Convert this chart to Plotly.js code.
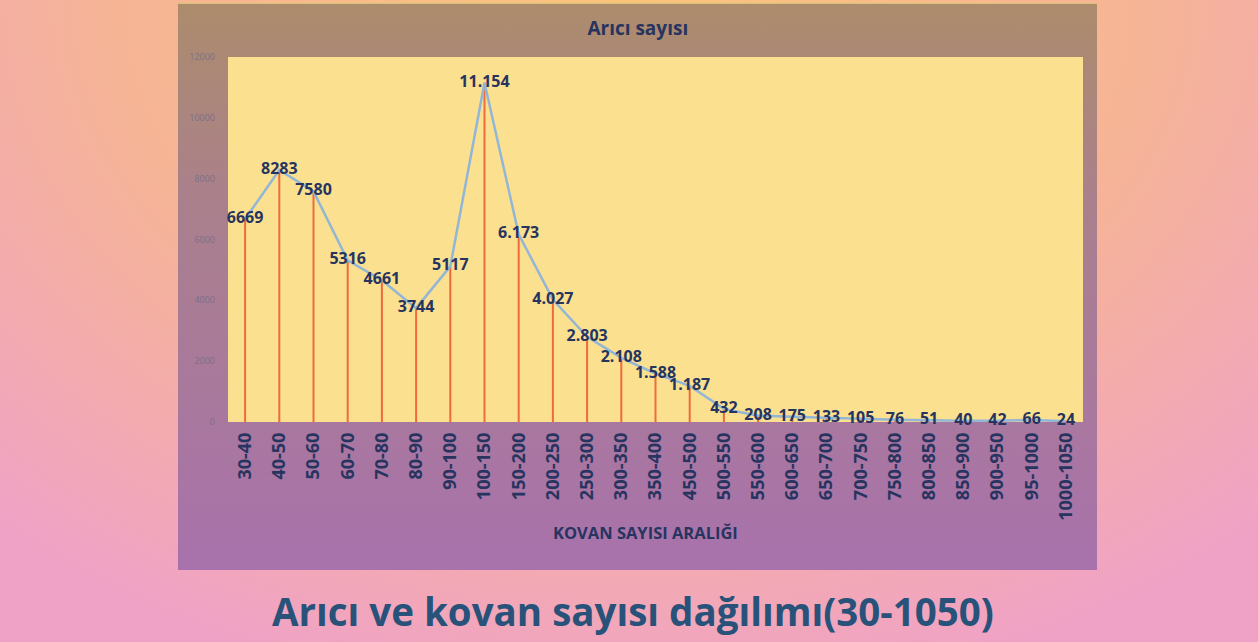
<!DOCTYPE html>
<html>
<head>
<meta charset="utf-8">
<script src="https://cdn.plot.ly/plotly-3.0.1.min.js"></script>
<style>
  html, body { margin:0; padding:0; width:1258px; height:642px; overflow:hidden; }
  body { background: radial-gradient(ellipse 75% 110% at 50% 0%, #f9c47a 0%, #f6b496 55%, #f0a2c6 100%); position:relative; }
  #box { position:absolute; left:178px; top:3px; width:919px; height:567px;
         background: linear-gradient(180deg, rgba(172,140,108,1) 0%, rgba(170,128,140,1) 35%, rgba(168,114,172,1) 100%);
         border-top:1px solid #d8c27a; box-sizing:border-box; }
  #chart { position:absolute; left:0; top:0; width:1258px; height:642px; }
</style>
</head>
<body>
<div id="box"></div>
<div id="chart"></div>
<script>
const categories = ["30-40","40-50","50-60","60-70","70-80","80-90","90-100","100-150","150-200","200-250","250-300","300-350","350-400","450-500","500-550","550-600","600-650","650-700","700-750","750-800","800-850","850-900","900-950","95-1000","1000-1050"];
const values = [6669,8283,7580,5316,4661,3744,5117,11154,6173,4027,2803,2108,1588,1187,432,208,175,133,105,76,51,40,42,66,24];
const valueLabels = ["6669","8283","7580","5316","4661","3744","5117","11.154","6.173","4.027","2.803","2.108","1.588","1.187","432","208","175","133","105","76","51","40","42","66","24"];
const yTicks = [0,2000,4000,6000,8000,10000,12000];

const navy = "#27345f";
const traces = [
  { type:"scatter", mode:"markers", x:categories, y:values, marker:{size:1, opacity:0},
    error_y:{type:"data", symmetric:false, array:values.map(()=>0), arrayminus:values, width:0, thickness:2, color:"#f06a3a"},
    hoverinfo:"skip", showlegend:false },
  { type:"scatter", mode:"lines+text", x:categories, y:values, text:valueLabels, textposition:"middle center",
    line:{color:"#93b6d6", width:2.5}, textfont:{family:"Open Sans", size:16, color:navy, weight:"bold"},
    cliponaxis:false, showlegend:false }
];
const layout = {
  width:1258, height:642,
  margin:{l:228, r:175, t:57, b:220},
  paper_bgcolor:"rgba(0,0,0,0)", plot_bgcolor:"#fae08f",
  title:{text:"<b>Arıcı sayısı</b>", font:{family:"Open Sans", size:19, color:navy}, x:0.507, xanchor:"center", y:0.956, yanchor:"middle"},
  xaxis:{type:"category", range:[-0.5,24.5], tickangle:-90, showgrid:false, zeroline:false, showline:false, ticks:"",
    tickfont:{family:"Open Sans", size:18, color:navy, weight:"bold"}, ticklabelstandoff:6},
  yaxis:{range:[0,12000], tickvals:yTicks, ticktext:yTicks.map(String), showgrid:false, zeroline:false, showline:false,
    tickfont:{family:"Open Sans", size:9, color:"#7c6f88"}, ticklabelstandoff:12},
  annotations:[
    {text:"<b>KOVAN SAYISI ARALIĞI</b>", xref:"paper", yref:"paper", x:0.488, y:-0.304, xanchor:"center", yanchor:"middle",
     showarrow:false, font:{family:"Open Sans", size:16.5, color:navy}},
    {text:"<b>Arıcı ve kovan sayısı dağılımı(30-1050)</b>", xref:"paper", yref:"paper", x:0.474, y:-0.518, xanchor:"center", yanchor:"middle",
     showarrow:false, font:{family:"Open Sans", size:38.5, color:"#28527a"}}
  ]
};
Plotly.newPlot("chart", traces, layout, {displayModeBar:false, staticPlot:true});
</script>
</body>
</html>
